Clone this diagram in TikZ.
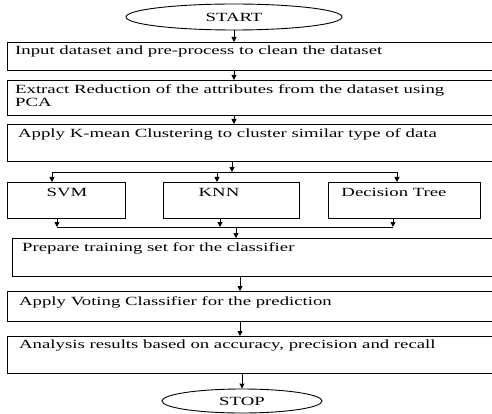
\documentclass[tikz,border=0pt]{standalone}
\usepackage{fontspec}
\setmainfont{Liberation Serif}
\usepackage{graphicx}
\usetikzlibrary{arrows.meta,shapes.geometric}
\newcommand\sx[1]{\scalebox{1.5}[1]{#1}}
\tikzset{
  box/.style={draw, line width=0.9pt, rectangle, inner sep=0pt},
  oval/.style={draw, line width=0.9pt, ellipse, inner sep=0pt},
  txt/.style={inner sep=0pt, font=\fontsize{12.5}{14}\selectfont},
  arr/.style={draw, line width=0.9pt, -{Triangle[length=5pt,width=5pt]}},
  ln/.style={draw, line width=0.9pt}
}
\begin{document}
\begin{tikzpicture}[x=1pt,y=-1pt]
\useasboundingbox (0,0) rectangle (492,414);
\clip (0,0) rectangle (492,414);
\fill[white] (0,0) rectangle (492,414);
% start / stop
\node[oval, minimum width=216, minimum height=26] (start) at (234,17) {};
\node[txt] (starttxt) at (234,17) {\sx{START}};
\node[oval, minimum width=160, minimum height=24] (stop) at (242,401) {};
\node[txt] (stoptxt) at (242,401) {\sx{STOP}};
% main boxes
\node[box, anchor=north west, minimum width=490, minimum height=28] (b1) at (7,42) {};
\node[box, anchor=north west, minimum width=490, minimum height=35] (b2) at (7,80) {};
\node[box, anchor=north west, minimum width=490, minimum height=37] (b3) at (7,124) {};
\node[box, anchor=north west, minimum width=485, minimum height=38] (b4) at (12,238) {};
\node[box, anchor=north west, minimum width=490, minimum height=30] (b5) at (7,291) {};
\node[box, anchor=north west, minimum width=490, minimum height=37] (b6) at (7,336) {};
% classifier boxes
\node[box, anchor=north west, minimum width=118, minimum height=36] (svm) at (7,182) {};
\node[box, anchor=north west, minimum width=136, minimum height=36] (knn) at (163,182) {};
\node[box, anchor=north west, minimum width=152, minimum height=36] (dt) at (328,182) {};
% texts
\node[txt, anchor=west] (t1) at (15,51) {\sx{Input dataset and pre-process to clean the dataset}};
\node[txt, anchor=west] (t2a) at (15,90) {\sx{Extract Reduction of the attributes from the dataset using}};
\node[txt, anchor=west] (t2b) at (15,102) {\sx{PCA}};
\node[txt, anchor=west] (t3) at (18,134) {\sx{Apply K-mean Clustering to cluster similar type of data}};
\node[txt] (tsvm) at (67,192) {\sx{SVM}};
\node[txt] (tknn) at (219,192) {\sx{KNN}};
\node[txt] (tdt) at (394,192) {\sx{Decision Tree}};
\node[txt, anchor=west] (t4) at (22,248) {\sx{Prepare training set for the classifier}};
\node[txt, anchor=west] (t5) at (19,302) {\sx{Apply Voting Classifier for the prediction}};
\node[txt, anchor=west] (t6) at (19,346) {\sx{Analysis results based on accuracy, precision and recall}};
% junction coordinates
\coordinate (up) at (232,172);
\coordinate (upL) at (52,172);
\coordinate (upR) at (397,172);
\coordinate (dn) at (236,227);
\coordinate (dnL) at (57,227);
\coordinate (dnR) at (393,227);
% arrows main chain
\draw[arr] (start.south) -- (start.south |- b1.north);
\draw[arr] (start.south |- b1.south) -- (start.south |- b2.north);
\draw[arr] (start.south |- b2.south) -- (start.south |- b3.north);
\draw[arr] (up |- b3.south) -- (up);
\draw[ln] (upL) -- (upR);
\draw[arr] (upL) -- (upL |- svm.north);
\draw[arr] (217,172) -- (217,182);
\draw[arr] (upR) -- (upR |- dt.north);
\draw[arr] (dnL |- svm.south) -- (dnL);
\draw[arr] (220,218) -- (220,227);
\draw[arr] (dnR |- dt.south) -- (dnR);
\draw[ln] (dnL) -- (dnR);
\draw[arr] (dn) -- (dn |- b4.north);
\draw[arr] (240,276) -- (240,291);
\draw[arr] (240,321) -- (240,336);
\draw[arr] (stop.north |- b6.south) -- (stop.north);
\end{tikzpicture}
\end{document}
